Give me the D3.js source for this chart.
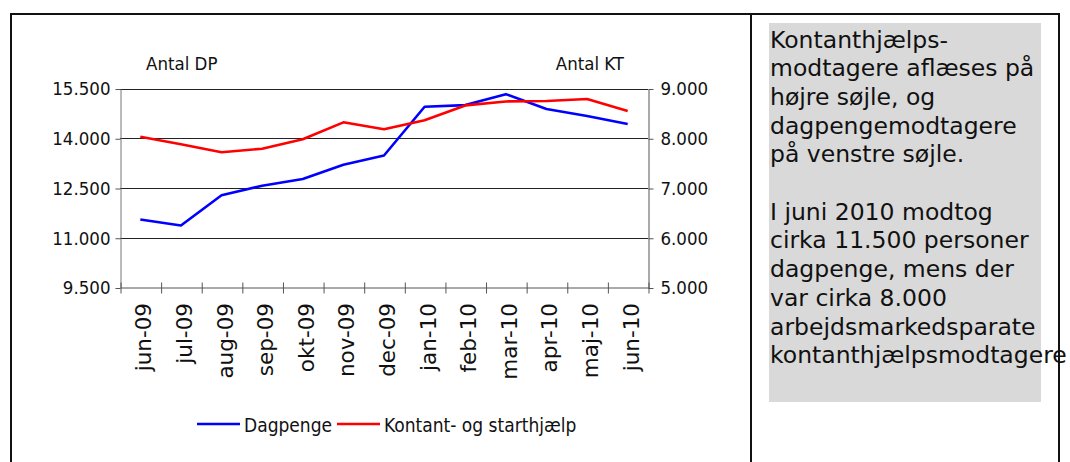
<!DOCTYPE html>
<html>
<head>
<meta charset="utf-8">
<script src="https://cdnjs.cloudflare.com/ajax/libs/d3/7.8.5/d3.min.js"></script>
<style>
  html, body { margin: 0; padding: 0; background: #fff; }
  svg { display: block; }
  .cf { font-family: "DejaVu Sans Condensed", "Liberation Sans Narrow", "Liberation Sans", sans-serif; }
  .vf { font-family: "DejaVu Sans", Verdana, sans-serif; }
</style>
</head>
<body>
<svg id="chart" width="1070" height="462"></svg>
<script>
// ---- data ----
const categories = ["jun-09","jul-09","aug-09","sep-09","okt-09","nov-09","dec-09","jan-10","feb-10","mar-10","apr-10","maj-10","jun-10"];
const dagpenge = [11550, 11370, 12280, 12570, 12770, 13200, 13480, 14950, 15000, 15330, 14880, 14670, 14430];
const kontant  = [8030, 7880, 7720, 7790, 7980, 8320, 8180, 8360, 8660, 8740, 8750, 8790, 8550];
const leftTicks  = [9500, 11000, 12500, 14000, 15500];
const rightTicks = [5000, 6000, 7000, 8000, 9000];
const seriesNames = ["Dagpenge", "Kontant- og starthjælp"];
const seriesColors = ["#0000ff", "#ff0000"];
const leftTitle = "Antal DP";
const rightTitle = "Antal KT";
const noteLines = [
  "Kontanthjælps-",
  "modtagere aflæses på",
  "højre søjle, og",
  "dagpengemodtagere",
  "på venstre søjle.",
  "",
  "I juni 2010 modtog",
  "cirka 11.500 personer",
  "dagpenge, mens der",
  "var cirka 8.000",
  "arbejdsmarkedsparate",
  "kontanthjælpsmodtagere"
];

// ---- layout ----
const svg = d3.select("#chart");
const plot = { left: 120, right: 648, top: 88.5, bottom: 287.5 };
const da = d3.formatLocale({ decimal: ",", thousands: ".", grouping: [3], currency: ["", " kr"] });
const fmt = da.format(",d");

const x = d3.scaleBand().domain(categories).range([plot.left, plot.right]).padding(0);
const xIdx = d3.scaleLinear().domain([0, categories.length]).range([plot.left, plot.right]);
const yL = d3.scaleLinear().domain([9500, 15500]).range([plot.bottom, plot.top]);
const yR = d3.scaleLinear().domain([5000, 9000]).range([plot.bottom, plot.top]);

// ---- frames ----
svg.append("rect").attr("x", 769).attr("y", 23).attr("width", 272).attr("height", 379).attr("fill", "#d9d9d9");
svg.append("path")
  .attr("d", "M11,470 V14 H751 V470 M751,14 H1059 V470")
  .attr("fill", "none").attr("stroke", "#111").attr("stroke-width", 2);

// ---- gridlines ----
svg.append("g").selectAll("line").data(leftTicks.slice(1)).join("line")
  .attr("x1", plot.left).attr("x2", plot.right)
  .attr("y1", d => Math.round(yL(d)) + 0.5).attr("y2", d => Math.round(yL(d)) + 0.5)
  .attr("stroke", "#222").attr("stroke-width", 1);

// ---- axes ----
const axL = svg.append("g").attr("transform", `translate(${plot.left + 0.5},0.5)`)
  .call(d3.axisLeft(yL).tickValues(leftTicks).tickSize(5).tickSizeOuter(0).tickFormat(fmt).tickPadding(5));
const axR = svg.append("g").attr("transform", `translate(${plot.right + 0.5},0.5)`)
  .call(d3.axisRight(yR).tickValues(rightTicks).tickSize(5).tickSizeOuter(0).tickFormat(fmt).tickPadding(7));
const axB = svg.append("g").attr("transform", `translate(0.5,${plot.bottom})`)
  .call(d3.axisBottom(xIdx).tickValues(d3.range(categories.length + 1)).tickSize(6).tickSizeOuter(0).tickFormat(""));
axB.selectAll(".tick line").attr("y1", -5).attr("y2", 6);

[axL, axR, axB].forEach(a => {
  a.select(".domain").attr("stroke", "#555");
  a.selectAll(".tick line").attr("stroke", "#555");
  a.selectAll("text").attr("class", "cf").style("font-size", "18.5px").attr("fill", "#111");
});
axL.select(".domain").attr("stroke", "#777");

// x labels
svg.append("g").selectAll("text").data(categories).join("text")
  .attr("class", "vf")
  .attr("transform", d => `translate(${x(d) + x.bandwidth() / 2 + 11},303) rotate(-90)`)
  .attr("text-anchor", "end")
  .style("font-size", "21.5px").attr("fill", "#111")
  .text(d => d);

// titles
svg.append("text").attr("class", "cf").attr("x", 146).attr("y", 70)
  .style("font-size", "18.5px").attr("fill", "#111").text(leftTitle);
svg.append("text").attr("class", "cf").attr("x", 624).attr("y", 70).attr("text-anchor", "end")
  .style("font-size", "18.5px").attr("fill", "#111").text(rightTitle);

// ---- lines ----
const lineL = d3.line().x((d, i) => x(categories[i]) + x.bandwidth() / 2).y(d => yL(d));
const lineR = d3.line().x((d, i) => x(categories[i]) + x.bandwidth() / 2).y(d => yR(d));
svg.append("path").datum(dagpenge).attr("d", lineL)
  .attr("fill", "none").attr("stroke", seriesColors[0]).attr("stroke-width", 2.6).attr("stroke-linejoin", "round");
svg.append("path").datum(kontant).attr("d", lineR)
  .attr("fill", "none").attr("stroke", seriesColors[1]).attr("stroke-width", 2.6).attr("stroke-linejoin", "round");

// ---- legend ----
const legendPos = [{ lx: 197, tx: 244 }, { lx: 337, tx: 384 }];
const lg = svg.append("g");
seriesNames.forEach((n, i) => {
  lg.append("line").attr("x1", legendPos[i].lx).attr("x2", legendPos[i].lx + 43)
    .attr("y1", 424).attr("y2", 424).attr("stroke", seriesColors[i]).attr("stroke-width", 2.6);
  lg.append("text").attr("class", "cf").attr("x", legendPos[i].tx).attr("y", 432)
    .style("font-size", "19px").attr("fill", "#111").text(n);
});

// ---- note ----
svg.append("g").selectAll("text").data(noteLines).join("text")
  .attr("class", "vf").attr("x", 770).attr("y", (d, i) => 47.5 + i * 28.7)
  .style("font-size", "23.5px").attr("fill", "#111").text(d => d);
</script>
</body>
</html>
